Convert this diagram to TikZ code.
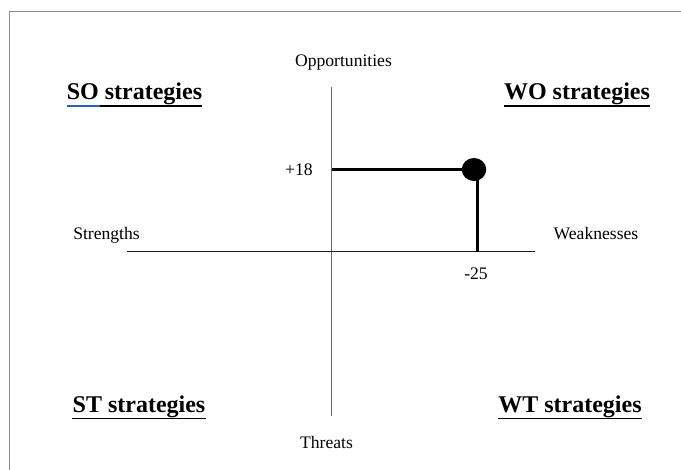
\documentclass[tikz,border=0pt]{standalone}
\usepackage{fontspec}
\setmainfont{Liberation Serif}
\usepackage{tikz}
\usetikzlibrary{shapes.geometric}
\definecolor{my_frame}{HTML}{8A8A8A}
\definecolor{my_vaxis}{HTML}{6A6A6A}
\definecolor{my_haxis}{HTML}{1E1E1E}
\definecolor{my_blue}{HTML}{2A5DC8}

\begin{document}
\begin{tikzpicture}[
    x=1pt, y=-1pt,
    label/.style={inner sep=0pt, anchor=base, font=\fontsize{17.6}{20}\selectfont},
    heading/.style={inner sep=0pt, anchor=base, font=\fontsize{24}{28}\selectfont\bfseries},
    uline/.style={line width=1.4pt},
    bar/.style={line width=3pt}
]
\useasboundingbox (0, 0) rectangle (681, 470);

% ---- Rahmen (nur links und oben sichtbar) ----
\draw[my_frame, line width=1pt] (9, 470) -- (9, 12) -- (681, 12);

% ---- Achsen ----
\draw[my_vaxis, line width=1pt] (331, 87) -- (331, 416);
\draw[my_haxis, line width=1pt] (127, 252) -- (535, 252);

\node[label] (opp) at (343.5, 67) {Opportunities};
\node[label] (thr) at (326.5, 449) {Threats};
\node[label] (str) at (106.5, 240) {Strengths};
\node[label] (wea) at (596, 240) {Weaknesses};

% ---- Quadranten ----
\node[heading] (so) at (134.5, 100) {SO strategies};
\node[heading] (wo) at (577, 100) {WO strategies};
\node[heading] (st) at (139, 412.5) {ST strategies};
\node[heading] (wt) at (570, 412.5) {WT strategies};
\foreach \q in {so, wo, st, wt}
    \draw[uline] ([yshift=-6pt]\q.base west) -- ([yshift=-6pt]\q.base east);
\draw[uline, my_blue] ([yshift=-6pt]so.base west) -- ++(33pt, 0);

% ---- Position (+18 / -25) ----
\node[ellipse, fill=black, inner sep=0pt, minimum width=24.5pt, minimum height=23pt]
    (pos) at (474, 169.5) {};
\coordinate (o18) at (332, 169.5);
\coordinate (w25) at (477.5, 252);
\draw[bar] (o18) -- (o18 -| pos.center);
\draw[bar] (w25) -- (w25 |- pos.center);
\node[label] (l18) at (299, 176) {+18};
\node[label] (l25) at (476, 280) {-25};

\end{tikzpicture}
\end{document}
